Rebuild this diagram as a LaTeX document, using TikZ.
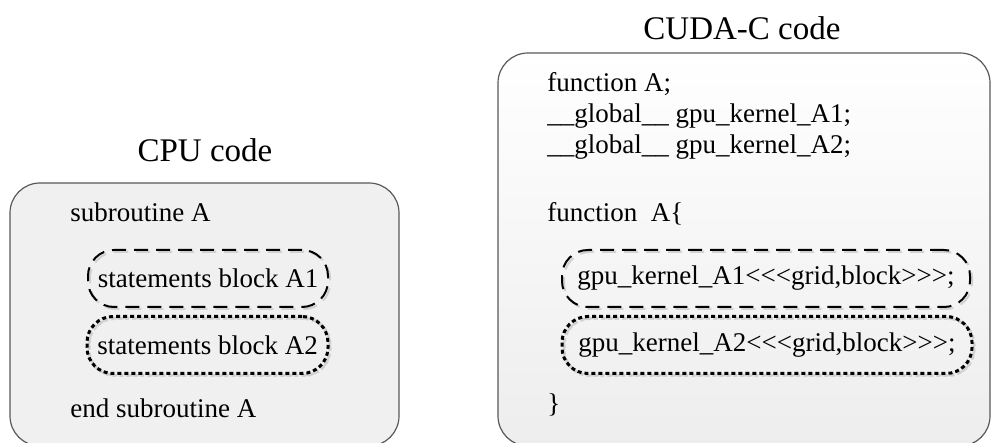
\documentclass[tikz,border=0pt]{standalone}
\usepackage{fontspec}
\setmainfont{Liberation Serif}
\usetikzlibrary{positioning}

\begin{document}
\begin{tikzpicture}[x=0.5pt,y=-0.5pt,
            codebox/.style={draw=black!65, line width=0.6pt, rounded corners=15pt},
            codeline/.style={anchor=base west, inner sep=0pt, font=\fontsize{13.5}{15.5}\selectfont},
            title/.style={anchor=base, inner sep=0pt, font=\fontsize{16.5}{19}\selectfont},
            dashblock/.style={rectangle, rounded corners=13pt, line width=1pt, dash pattern=on 7pt off 4pt,
                preaction={draw=black!18, line width=1pt, dash pattern=on 7pt off 4pt, transform canvas={shift={(1pt,-1pt)}}},
                draw=black, minimum height=28.5pt, inner sep=0pt, font=\fontsize{13.5}{15.5}\selectfont},
            dotblock/.style={dashblock, dash pattern=on 2pt off 1.5pt, line width=1.5pt,
                preaction={draw=black!18, line width=1.5pt, dash pattern=on 2pt off 1.5pt, transform canvas={shift={(1pt,-1pt)}}}}
        ]
            \useasboundingbox (0,0) rectangle (991,443);

% Boxes
            \fill[black!6] (10,183) [rounded corners=15pt] rectangle (399,446);
            \draw[codebox] (10,183) rectangle (399,446);
            \shade[top color=white, bottom color=black!7, rounded corners=15pt] (498,53) rectangle (990,446);
            \draw[codebox] (498,53) rectangle (990,446);

% Titles
            \node[title] (cputitle) at (205,162) {CPU code};
            \node[title] (cudatitle) at (742,40) {CUDA-C code};

% CPU code
            \node[codeline] (sub) at (70,222) {subroutine A};
            \node[dashblock, minimum width=120pt] (blockA1) at (208,278.5) {statements block A1};
            \node[dotblock, minimum width=120.5pt] (blockA2) at (207.5,345) {statements block A2};
            \node[codeline] (endsub) at (70,417) {end subroutine A};

% CUDA-C code
            \node[codeline] (funcdecl) at (547,92) {function A;};
            \node[codeline] (globalA1) at (547,123) {\_\_global\_\_ gpu\_kernel\_A1;};
            \node[codeline] (globalA2) at (547,154) {\_\_global\_\_ gpu\_kernel\_A2;};
            \node[codeline] (funcdef) at (547,222) {function\ \ A\{};
            \node[dashblock, minimum width=204pt] (kernelA1) at (766,278.5) {gpu\_kernel\_A1<{}<{}<grid,block>{}>{}>;};
            \node[dotblock, minimum width=205pt] (kernelA2) at (767,345) {gpu\_kernel\_A2<{}<{}<grid,block>{}>{}>;};
            \node[codeline] (funcend) at (547,412) {\}};

        \end{tikzpicture}
\end{document}
